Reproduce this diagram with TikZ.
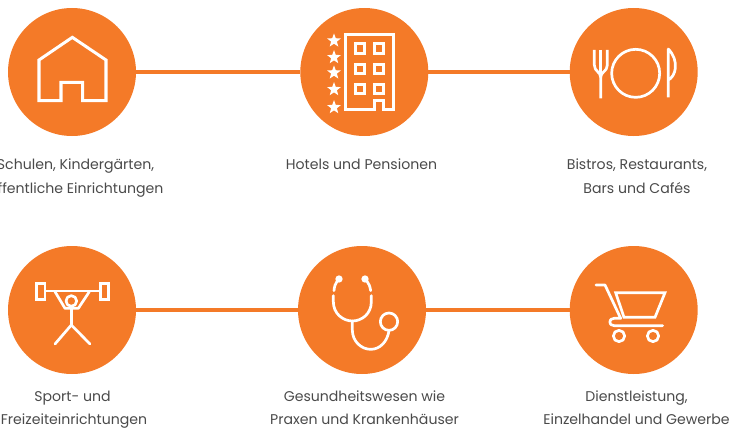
\documentclass[tikz,border=0pt]{standalone}
\usepackage{fontspec}
\setmainfont{Poppins}
\usetikzlibrary{shapes.geometric}
\definecolor{brand}{HTML}{F47A28}
\definecolor{txt}{HTML}{4A4A4A}
\tikzset{
  disc/.style={circle,fill=brand,minimum size=128pt,inner sep=0pt,outer sep=0pt},
  link/.style={draw=brand,line width=3.2pt},
  lab/.style={anchor=base,inner sep=0pt,text=txt,font=\fontsize{14.1}{16}\selectfont},
  ico/.style={draw=white,line width=3pt,line join=miter,fill=none},
  thin ico/.style={draw=white,line width=2.7pt,line cap=round,line join=round,fill=none},
  zoomed/.style={x=0.33333pt,y=-0.33333pt},
  starry/.style={star,star points=5,star point ratio=2.4,fill=white,inner sep=0pt,minimum size=14.5pt,outer sep=0pt}
}
\begin{document}
\begin{tikzpicture}[x=1pt,y=-1pt]
\useasboundingbox (0,0) rectangle (749,428);
\node[disc] (a1) at (72,72) {};
\node[disc] (a2) at (364.3,72) {};
\node[disc] (a3) at (633.7,72) {};
\node[disc] (b1) at (72,310) {};
\node[disc] (b2) at (362,310) {};
\node[disc] (b3) at (633.7,310) {};
\draw[link] (a1) -- (a2);
\draw[link] (a2) -- (a3);
\draw[link] (b1) -- (b2);
\draw[link] (b2) -- (b3);
% house
\begin{scope}[zoomed]
\draw[ico] (117,302) -- (117,180) -- (217,112) -- (318,180) -- (318,302) -- (248,302) -- (248,247) -- (183,247) -- (183,302) -- cycle;
\end{scope}
% hotel
\begin{scope}[zoomed,shift={(280pt,0pt)}]
\draw[ico] (283,330) -- (283,302) -- (310,302) -- (310,330) -- (341,330) -- (341,105) -- (197,105) -- (197,330) -- cycle;
\foreach \wx in {240,297} \foreach \wy in {146,207,267}
  \draw[ico] (\wx-14,\wy-14) rectangle (\wx+14,\wy+14);
\foreach \sy/\sn in {122/1,172/2,218/3,268/4,322/5}
  \node[starry] (st\sn) at (162,\sy) {};
\end{scope}
% cutlery
\begin{scope}[zoomed,shift={(550pt,0pt)}]
\draw[thin ico,line cap=butt] (133,150) -- (133,195) .. controls (133,215) and (152,215) .. (152,232) -- (152,295);
\draw[thin ico,line cap=butt] (172,150) -- (172,195) .. controls (172,215) and (152,215) .. (152,232);
\draw[thin ico,line cap=butt] (152,150) -- (152,232);
\draw[thin ico] (257,220) circle (72);
\draw[thin ico,line cap=butt] (355,292) -- (355,147) .. controls (372,165) and (378,185) .. (376,205) .. controls (374,222) and (365,235) .. (355,240);
\end{scope}
% weightlifter
\begin{scope}[zoomed,shift={(0pt,-240pt)}]
\draw[thin ico,line cap=butt,line join=miter] (110,130) rectangle (135,178);
\draw[thin ico,line cap=butt,line join=miter] (301,130) rectangle (326,178);
\draw[thin ico] (137,153) -- (300,153);
\draw[thin ico] (165,155) -- (195,205) -- (235,205) -- (268,155);
\draw[thin ico] (214,183) circle (16);
\draw[thin ico] (214,205) -- (214,255);
\draw[thin ico] (165,312) -- (214,255) -- (270,312);
\end{scope}
% stethoscope
\begin{scope}[zoomed,shift={(280pt,-240pt)}]
\fill[white] (177,117) circle (11);
\fill[white] (255,117) circle (11);
\draw[thin ico] (172,122) .. controls (166,130) and (163,140) .. (162,152);
\draw[thin ico] (260,122) .. controls (267,130) and (270,140) .. (272,152);
\draw[thin ico] (160,167) -- (160,185) .. controls (160,222) and (190,243) .. (217,243) .. controls (245,243) and (274,222) .. (274,185) -- (274,167);
\draw[thin ico] (217,243) -- (217,270) .. controls (217,305) and (245,328) .. (272,328) .. controls (300,328) and (322,305) .. (327,272);
\draw[thin ico] (327,245) circle (26);
\end{scope}
% cart
\begin{scope}[zoomed,shift={(550pt,-240pt)}]
\draw[thin ico] (138,135) -- (165,135) -- (212,235) -- (192,235) .. controls (175,235) and (175,257) .. (192,257) -- (338,257);
\draw[thin ico,line join=miter] (197,158) -- (345,158) -- (315,232) -- (222,232) -- cycle;
\draw[thin ico] (207,288) circle (17);
\draw[thin ico] (309,288) circle (17);
\end{scope}
% labels
\node[lab] (t1) at (75.5,169) {Schulen, Kindergärten,};
\node[lab] (t2) at (76,193) {öffentliche Einrichtungen};
\node[lab] (t3) at (361.5,169) {Hotels und Pensionen};
\node[lab] (t4) at (637,169) {Bistros, Restaurants,};
\node[lab] (t5) at (637,193) {Bars und Cafés};
\node[lab] (t6) at (72.5,401) {Sport- und};
\node[lab] (t7) at (74,424) {Freizeiteinrichtungen};
\node[lab] (t8) at (364.5,401) {Gesundheitswesen wie};
\node[lab] (t9) at (364.5,424) {Praxen und Krankenhäuser};
\node[lab] (t10) at (636.5,401) {Dienstleistung,};
\node[lab] (t11) at (636.5,424) {Einzelhandel und Gewerbe};
\end{tikzpicture}
\end{document}
